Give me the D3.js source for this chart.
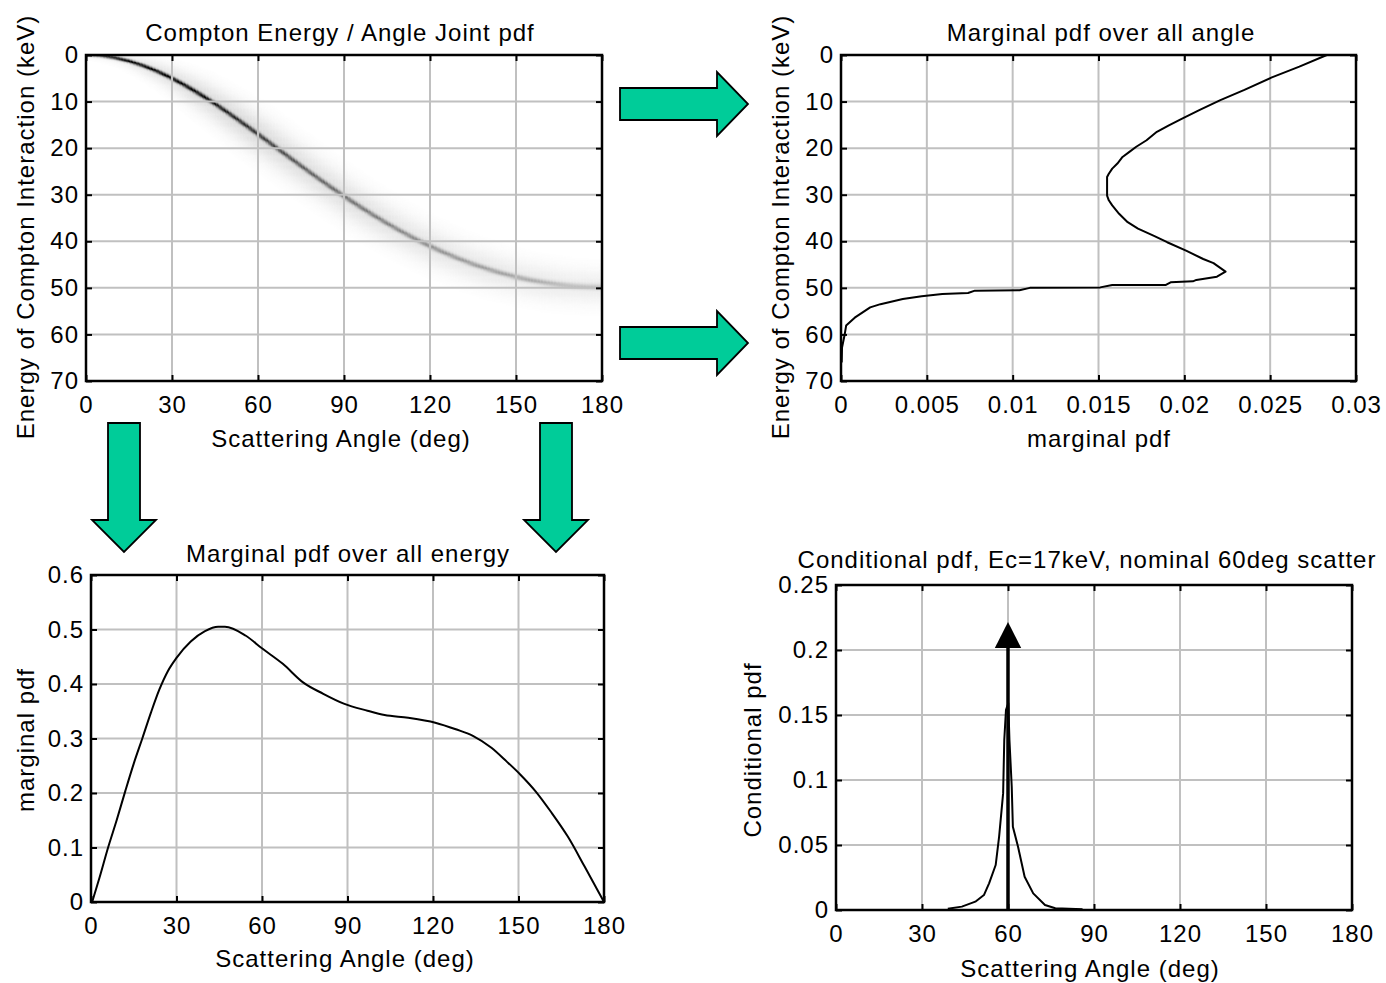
<!DOCTYPE html>
<html>
<head>
<meta charset="utf-8">
<script src="https://cdn.jsdelivr.net/npm/d3@7"></script>
<style>
  html, body { margin: 0; padding: 0; background: #fff; }
  svg { display: block; }
</style>
</head>
<body>
<svg id="fig" width="1386" height="983"></svg>
<script>
// ---------------- tick values and labels ----------------
const angleTicks = [0, 30, 60, 90, 120, 150, 180];
const energyTicks = [0, 10, 20, 30, 40, 50, 60, 70];
const pdfOverAngleTicks = [0, 0.005, 0.01, 0.015, 0.02, 0.025, 0.03];
const pdfOverAngleLabels = ["0", "0.005", "0.01", "0.015", "0.02", "0.025", "0.03"];
const pdfOverEnergyTicks = [0, 0.1, 0.2, 0.3, 0.4, 0.5, 0.6];
const condTicks = [0, 0.05, 0.1, 0.15, 0.2, 0.25];

// ---------------- joint pdf: ridge of the Compton band ----------------
const ridgeAngle = [0, 5, 10, 15, 20, 25, 30, 35, 40, 45, 50, 55, 60, 65, 70, 75, 80, 85, 90,
                    95, 100, 105, 110, 115, 120, 125, 130, 135, 140, 145, 150, 155, 160, 165, 170, 175, 180];
const ridgeEnergy = [0, 0.15, 0.58, 1.30, 2.29, 3.53, 4.99, 6.66, 8.49, 10.47, 12.57, 14.75, 16.98,
                     19.25, 21.53, 23.79, 26.02, 28.19, 30.30, 32.34, 34.28, 36.13, 37.87, 39.51,
                     41.03, 42.44, 43.72, 44.89, 45.93, 46.85, 47.65, 48.32, 48.87, 49.30, 49.61, 49.79, 49.85];
// band darkness along the ridge (core line and surrounding haze), and their widths in px
const shadeAngle = [0, 10, 20, 30, 40, 50, 60, 70, 80, 90, 100, 110, 120, 130, 140, 150, 160, 170, 180];
const coreDark   = [0.6, 0.95, 0.95, 0.92, 0.86, 0.76, 0.66, 0.57, 0.50, 0.45, 0.41, 0.37, 0.34, 0.31, 0.29, 0.27, 0.23, 0.19, 0.16];
const coreWidth  = [0.9, 1.1, 1.2, 1.3, 1.4, 1.4, 1.5, 1.5, 1.5, 1.6, 1.6, 1.6, 1.7, 1.7, 1.7, 1.8, 1.9, 2.0, 2.1];
const hazeDark   = [0.02, 0.05, 0.09, 0.11, 0.13, 0.14, 0.14, 0.13, 0.12, 0.12, 0.11, 0.10, 0.10, 0.09, 0.09, 0.08, 0.08, 0.07, 0.07];
const hazeWidth  = [3, 4, 6, 8, 10, 11, 12, 12, 12, 12, 12, 12, 12, 12, 12, 12, 12, 12, 12];

// ---------------- marginal pdf over all angle (vs energy) ----------------
const margEnergy = [0, 2.5, 4.8, 7.5, 9.7, 11.8, 13.6, 15.1, 16.5, 18.3, 19.7, 20.8, 21.9, 23.3, 24.4,
                    25.5, 26.2, 28.4, 30.2, 31.2, 32.3, 34.1, 35.9, 37.3, 38.8, 40.2, 42.0, 43.8, 44.7,
                    46.5, 47.6, 48.3, 48.6, 48.8, 49.4, 49.4, 49.9, 50.0, 50.5, 50.6, 51.1, 51.3, 51.8,
                    52.4, 53.5, 54.2, 56.4, 58.1, 60.3, 62.8, 66.0];
const margAnglePdf = [0.0283, 0.0267, 0.0251, 0.0235, 0.0221, 0.0209, 0.0199, 0.0191, 0.0184, 0.0178,
                      0.0172, 0.0168, 0.0164, 0.0161, 0.0158, 0.0156, 0.0155, 0.0155, 0.0155, 0.0156,
                      0.0158, 0.0162, 0.0167, 0.0173, 0.0182, 0.0190, 0.0201, 0.0211, 0.0217, 0.0224,
                      0.0219, 0.0207, 0.0205, 0.0192, 0.0189, 0.0158, 0.0151, 0.0110, 0.0104, 0.0078,
                      0.0074, 0.0059, 0.0047, 0.0036, 0.0023, 0.0017, 0.0008, 0.0003, 0.0002, 0.00006, 0.00004];

// ---------------- marginal pdf over all energy (vs angle) ----------------
const margAngle = [0.4, 3, 6, 9, 12, 15, 18, 21, 24, 27, 30, 35, 40, 44.6, 47.0, 54.2, 60.1,
                   67.3, 74.4, 81.5, 88.7, 97.0, 103.0, 111.3, 120.8, 128.0, 134.0, 140.5, 145.8, 150.6,
                   156.0, 161.3, 167.3, 173.2, 180];
const margEnergyPdf = [0, 0.045, 0.100, 0.150, 0.203, 0.254, 0.300, 0.347, 0.390, 0.424, 0.448, 0.478,
                       0.497, 0.505, 0.505, 0.489, 0.465, 0.437, 0.403, 0.382, 0.364, 0.351, 0.343, 0.338,
                       0.329, 0.317, 0.305, 0.283, 0.258, 0.234, 0.203, 0.166, 0.120, 0.065, 0];

// ---------------- conditional pdf at Ec = 17 keV ----------------
const condAngle = [39, 43.9, 48.6, 51.6, 53.4, 55.7, 56.9, 58.3, 58.7, 59.3, 60.1, 60.5, 61.3, 61.7,
                   63.5, 65.8, 68.8, 72.9, 76.5, 86];
const condPdf = [0.001, 0.0026, 0.0064, 0.0115, 0.0205, 0.0346, 0.0564, 0.0897, 0.131, 0.154, 0.159,
                 0.131, 0.095, 0.064, 0.0487, 0.0256, 0.0128, 0.0038, 0.0013, 0.0005];
const nominalAngle = [60];     // nominal scatter angle (delta marker)
const nominalHeight = [0.2215]; // top of the marker arrow

// ---------------- layout ----------------
const FONT = 24;
const FAMILY = "'Liberation Sans', Arial, Helvetica, sans-serif";
const LS = "1px";
const svg = d3.select("#fig");

function styleText(sel) {
  return sel.attr("font-family", FAMILY).attr("font-size", FONT).attr("fill", "#000")
            .attr("letter-spacing", LS);
}

function makePanel(cfg) {
  const b = cfg.box;
  const x = d3.scaleLinear().domain(cfg.xDomain).range([b.x0, b.x1]);
  const y = d3.scaleLinear().domain(cfg.yDomain).range(cfg.yDown ? [b.y0, b.y1] : [b.y1, b.y0]);
  const g = svg.append("g");
  const under = g.append("g");
  // grid
  const grid = g.append("g").attr("stroke", "#c0c0c0").attr("stroke-width", 2);
  grid.selectAll("line.v").data(cfg.xTicks).join("line")
    .attr("x1", d => x(d)).attr("x2", d => x(d)).attr("y1", b.y0).attr("y2", b.y1);
  grid.selectAll("line.h").data(cfg.yTicks).join("line")
    .attr("y1", d => y(d)).attr("y2", d => y(d)).attr("x1", b.x0).attr("x2", b.x1);
  const data = g.append("g");
  const top = g.append("g");
  // inward tick marks on all four sides
  const tickAxes = [
    [d3.axisBottom(x).tickValues(cfg.xTicks), `translate(0,${b.y1})`],
    [d3.axisTop(x).tickValues(cfg.xTicks), `translate(0,${b.y0})`],
    [d3.axisLeft(y).tickValues(cfg.yTicks), `translate(${b.x0},0)`],
    [d3.axisRight(y).tickValues(cfg.yTicks), `translate(${b.x1},0)`]
  ];
  tickAxes.forEach(([ax, tr]) => {
    const a = top.append("g").attr("transform", tr)
      .call(ax.tickSizeInner(-6).tickSizeOuter(0).tickFormat(""));
    a.select(".domain").remove();
    a.selectAll("line").attr("stroke", "#000").attr("stroke-width", 2);
  });
  // frame
  top.append("rect").attr("x", b.x0).attr("y", b.y0)
    .attr("width", b.x1 - b.x0).attr("height", b.y1 - b.y0)
    .attr("fill", "none").attr("stroke", "#000").attr("stroke-width", 2.5);
  // tick labels
  const xl = top.append("g").attr("transform", `translate(0,${b.y1})`)
    .call(d3.axisBottom(x).tickValues(cfg.xTicks).tickSize(0).tickPadding(15)
      .tickFormat((d, i) => cfg.xLabels[i]));
  xl.select(".domain").remove();
  styleText(xl.selectAll("text"));
  const yl = top.append("g").attr("transform", `translate(${b.x0},0)`)
    .call(d3.axisLeft(y).tickValues(cfg.yTicks).tickSize(0).tickPadding(7)
      .tickFormat((d, i) => cfg.yLabels[i]));
  yl.select(".domain").remove();
  styleText(yl.selectAll("text"));
  // title and axis titles
  styleText(top.append("text")).attr("x", cfg.title[1]).attr("y", cfg.title[2])
    .attr("dy", "0.36em").attr("text-anchor", "middle").text(cfg.title[0]);
  styleText(top.append("text")).attr("x", cfg.xTitle[1]).attr("y", cfg.xTitle[2])
    .attr("dy", "0.36em").attr("text-anchor", "middle").text(cfg.xTitle[0]);
  styleText(top.append("text"))
    .attr("transform", `translate(${cfg.yTitle[1]},${cfg.yTitle[2]}) rotate(-90)`)
    .attr("dy", "0.36em").attr("text-anchor", "middle").text(cfg.yTitle[0]);
  return { x, y, under, data, box: b };
}

const str = v => String(v);

// ---------------- panel 1: joint pdf image ----------------
const p1 = makePanel({
  box: { x0: 86, y0: 55, x1: 602, y1: 381 },
  xDomain: [0, 180], yDomain: [0, 70], yDown: true,
  xTicks: angleTicks, yTicks: energyTicks,
  xLabels: angleTicks.map(str), yLabels: energyTicks.map(str),
  title: ["Compton Energy / Angle Joint pdf", 340, 32],
  xTitle: ["Scattering Angle (deg)", 341, 438],
  yTitle: ["Energy of Compton Interaction (keV)", 25, 227]
});

(function drawJoint(p) {
  const { x, y, box } = p;
  const W = Math.round(box.x1 - box.x0), H = Math.round(box.y1 - box.y0);
  const canvas = document.createElement("canvas");
  canvas.width = W; canvas.height = H;
  const ctx = canvas.getContext("2d");
  ctx.fillStyle = "#fff"; ctx.fillRect(0, 0, W, H);
  const core = d3.scaleLinear().domain(shadeAngle).range(coreDark).clamp(true);
  const coreW = d3.scaleLinear().domain(shadeAngle).range(coreWidth).clamp(true);
  const haze = d3.scaleLinear().domain(shadeAngle).range(hazeDark).clamp(true);
  const hazeW = d3.scaleLinear().domain(shadeAngle).range(hazeWidth).clamp(true);
  // ridge segments in pixel space
  const pts = ridgeAngle.map((a, i) => [x(a), y(ridgeEnergy[i]), a]);
  const aStep = 0.5, eStep = 0.25;
  const nA = Math.round(180 / aStep), nE = Math.round(70 / eStep);
  for (let ai = 0; ai < nA; ai++) {
    const a = (ai + 0.5) * aStep;
    const cx = x(a);
    for (let ei = 0; ei < nE; ei++) {
      const e = (ei + 0.5) * eStep;
      const cy = y(e);
      let best = Infinity, bestA = 0;
      for (let k = 0; k < pts.length - 1; k++) {
        const [x1, y1, a1] = pts[k], [x2, y2, a2] = pts[k + 1];
        const dx = x2 - x1, dy = y2 - y1;
        let t = ((cx - x1) * dx + (cy - y1) * dy) / (dx * dx + dy * dy);
        t = Math.max(0, Math.min(1, t));
        const px = x1 + t * dx - cx, py = y1 + t * dy - cy;
        const d2 = px * px + py * py;
        if (d2 < best) { best = d2; bestA = a1 + t * (a2 - a1); }
      }
      if (best > 3000) continue;
      const sc = coreW(bestA), sh = hazeW(bestA);
      let dark = core(bestA) * Math.exp(-best / (2 * sc * sc)) + haze(bestA) * Math.exp(-best / (2 * sh * sh));
      dark = Math.min(1, dark);
      if (dark < 0.004) continue;
      const v = Math.round(255 * (1 - dark));
      ctx.fillStyle = `rgb(${v},${v},${v})`;
      const rx = x(a - aStep / 2) - box.x0, ry = y(e - eStep / 2) - box.y0;
      ctx.fillRect(rx, ry, x(aStep) - x(0) + 0.3, y(eStep) - y(0) + 0.3);
    }
  }
  p.under.append("image").attr("x", box.x0).attr("y", box.y0)
    .attr("width", W).attr("height", H).attr("preserveAspectRatio", "none")
    .attr("href", canvas.toDataURL());
})(p1);

// ---------------- panel 2: marginal over angle ----------------
const p2 = makePanel({
  box: { x0: 841, y0: 55, x1: 1356, y1: 381 },
  xDomain: [0, 0.03], yDomain: [0, 70], yDown: true,
  xTicks: pdfOverAngleTicks, yTicks: energyTicks,
  xLabels: pdfOverAngleLabels, yLabels: energyTicks.map(str),
  title: ["Marginal pdf over all angle", 1101, 32],
  xTitle: ["marginal pdf", 1099, 438],
  yTitle: ["Energy of Compton Interaction (keV)", 780, 227]
});
p2.data.append("path")
  .datum(margEnergy.map((e, i) => [margAnglePdf[i], e]))
  .attr("fill", "none").attr("stroke", "#000").attr("stroke-width", 2).attr("stroke-linejoin", "round")
  .attr("d", d3.line().x(d => p2.x(d[0])).y(d => p2.y(d[1])));

// ---------------- panel 3: marginal over energy ----------------
const p3 = makePanel({
  box: { x0: 91, y0: 575, x1: 604, y1: 902 },
  xDomain: [0, 180], yDomain: [0, 0.6], yDown: false,
  xTicks: angleTicks, yTicks: pdfOverEnergyTicks,
  xLabels: angleTicks.map(str), yLabels: pdfOverEnergyTicks.map(str),
  title: ["Marginal pdf over all energy", 348, 553],
  xTitle: ["Scattering Angle (deg)", 345, 958],
  yTitle: ["marginal pdf", 25, 740]
});
p3.data.append("path")
  .datum(margAngle.map((a, i) => [a, margEnergyPdf[i]]))
  .attr("fill", "none").attr("stroke", "#000").attr("stroke-width", 2).attr("stroke-linejoin", "round")
  .attr("d", d3.line().curve(d3.curveMonotoneX).x(d => p3.x(d[0])).y(d => p3.y(d[1])));

// ---------------- panel 4: conditional pdf ----------------
const p4 = makePanel({
  box: { x0: 836, y0: 585, x1: 1352, y1: 910 },
  xDomain: [0, 180], yDomain: [0, 0.25], yDown: false,
  xTicks: angleTicks, yTicks: condTicks,
  xLabels: angleTicks.map(str), yLabels: condTicks.map(str),
  title: ["Conditional pdf, Ec=17keV, nominal 60deg scatter", 1087, 559],
  xTitle: ["Scattering Angle (deg)", 1090, 968],
  yTitle: ["Conditional pdf", 752, 750]
});
// nominal-angle marker: shaft plus triangular head
nominalAngle.forEach((a, i) => {
  const top = nominalHeight[i], headLen = 0.02, headHalf = 4.6;
  p4.data.append("line")
    .attr("x1", p4.x(a)).attr("x2", p4.x(a))
    .attr("y1", p4.y(0)).attr("y2", p4.y(top - headLen))
    .attr("stroke", "#000").attr("stroke-width", 3.5);
  p4.data.append("path")
    .attr("d", `M${p4.x(a - headHalf)},${p4.y(top - headLen)}L${p4.x(a)},${p4.y(top)}L${p4.x(a + headHalf)},${p4.y(top - headLen)}Z`)
    .attr("fill", "#000");
});
p4.data.append("path")
  .datum(condAngle.map((a, i) => [a, condPdf[i]]))
  .attr("fill", "none").attr("stroke", "#000").attr("stroke-width", 2).attr("stroke-linejoin", "round")
  .attr("d", d3.line().x(d => p4.x(d[0])).y(d => p4.y(d[1])));

// ---------------- block arrows linking the panels ----------------
const ARROW_FILL = "#00cc99";
function blockArrow(cx, cy, len, bodyHalf, headLen, headHalf, angleDeg) {
  // shape drawn pointing right from tail (0,0) then rotated about the tail
  const b = len - headLen;
  const d = `M0,${-bodyHalf}L${b},${-bodyHalf}L${b},${-headHalf}L${len},0L${b},${headHalf}L${b},${bodyHalf}L0,${bodyHalf}Z`;
  svg.append("path").attr("d", d)
    .attr("transform", `translate(${cx},${cy}) rotate(${angleDeg})`)
    .attr("fill", ARROW_FILL).attr("stroke", "#000").attr("stroke-width", 1.8).attr("stroke-linejoin", "miter");
}
blockArrow(620, 104, 128, 16, 31, 32, 0);
blockArrow(620, 343, 128, 16, 31, 32, 0);
blockArrow(124, 423, 129, 16, 32, 32, 90);
blockArrow(556, 423, 129, 16, 32, 32, 90);
</script>
</body>
</html>
